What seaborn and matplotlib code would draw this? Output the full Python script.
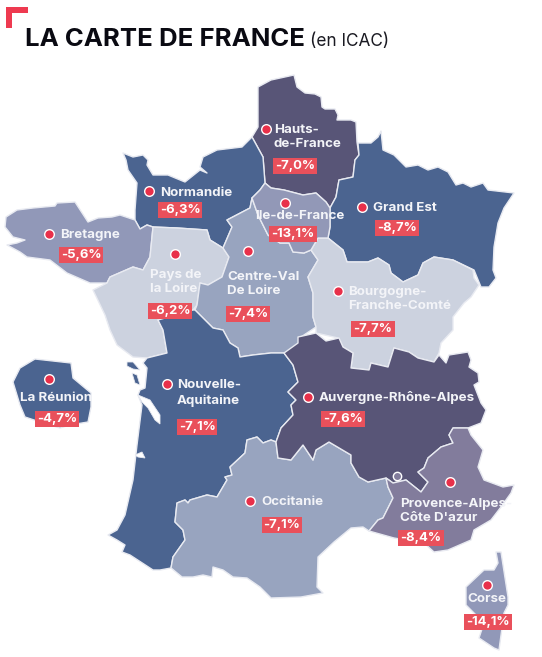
import matplotlib.pyplot as plt
import pandas as pd
import seaborn as sns

# contours relus sur l'image (px)
hauts = [(258,87),(271,80),(294,75),(297,87),(305,93),(315,94),(321,97),(322,107),(325,109),(335,109),(338,115),(337,120),(351,120),(356,122),(357,142),(359,155),(355,160),(353,177),(339,180),(336,197),(330,208),(326,202),(316,193),(303,195),(284,190),(271,188),(265,183),(263,157),(252,137),(258,127)]
grand_est = [(330,208),(336,197),(339,180),(353,177),(355,160),(359,155),(358,143),(371,143),(378,137),(381,131),(383,150),(394,155),(406,167),(418,165),(428,170),(438,167),(448,172),(456,185),(463,183),(471,187),(483,183),(488,190),(514,193),(504,208),(498,223),(494,247),(493,270),(496,278),(489,287),(481,287),(474,270),(453,260),(434,257),(423,263),(418,275),(403,282),(391,273),(389,265),(378,258),(368,262),(347,262),(343,250),(328,238),(330,227)]
idf = [(271,188),(284,190),(303,195),(316,193),(326,202),(330,208),(330,227),(328,238),(318,238),(311,250),(304,253),(293,252),(289,243),(280,243),(268,235),(258,215),(252,198),(260,190),(265,183)]
normandie = [(123,153),(133,157),(143,155),(148,160),(147,165),(153,175),(168,175),(185,182),(200,170),(207,173),(200,167),(203,157),(217,150),(242,147),(252,137),(263,157),(265,183),(260,190),(252,198),(250,208),(227,220),(232,227),(223,248),(210,240),(207,230),(177,228),(153,227),(147,225),(140,229),(135,220),(135,210),(137,183),(128,170),(126,160)]
bretagne = [(6,217),(17,210),(33,208),(55,206),(57,203),(75,202),(88,222),(98,218),(112,217),(120,215),(135,220),(140,229),(147,225),(153,227),(150,257),(143,270),(133,267),(110,277),(107,283),(90,283),(67,273),(50,260),(27,257),(20,252),(7,245),(17,243),(25,240),(13,237),(5,227)]
pays_loire = [(153,227),(177,228),(207,230),(210,240),(223,248),(229,257),(222,277),(208,285),(200,283),(197,305),(193,310),(158,320),(163,330),(167,353),(147,358),(133,357),(117,345),(110,330),(105,315),(93,290),(107,283),(110,277),(133,267),(143,270),(150,257)]
centre = [(227,220),(250,208),(252,198),(258,215),(268,235),(280,243),(289,243),(293,252),(304,253),(311,250),(318,260),(308,277),(313,293),(313,317),(316,327),(301,337),(298,347),(284,353),(271,353),(253,355),(240,357),(238,348),(230,343),(223,330),(213,328),(195,310),(197,305),(200,283),(208,285),(222,277),(229,257),(223,248),(232,227)]
bfc = [(318,238),(328,238),(343,250),(347,262),(368,262),(378,258),(389,265),(391,273),(403,282),(418,275),(423,263),(434,257),(453,260),(473,270),(474,278),(479,285),(471,297),(464,303),(453,317),(453,330),(441,343),(439,353),(434,362),(418,358),(409,352),(394,348),(388,367),(371,363),(369,370),(351,368),(353,353),(343,347),(338,338),(316,333),(316,327),(313,317),(313,293),(308,277),(318,260),(311,250)]
ara = [(284,353),(298,343),(298,337),(316,333),(326,341),(339,338),(343,347),(353,353),(351,368),(369,370),(371,363),(388,367),(394,348),(409,352),(418,358),(434,362),(439,355),(446,363),(449,355),(468,352),(471,360),(469,367),(478,373),(479,382),(474,385),(481,403),(486,410),(481,423),(468,428),(453,428),(449,435),(453,443),(441,447),(428,458),(424,468),(418,472),(428,482),(421,492),(406,480),(393,483),(386,478),(368,482),(359,477),(351,463),(351,455),(329,442),(316,450),(313,460),(303,445),(291,460),(278,458),(276,442),(281,428),(293,415),(291,405),(296,400),(288,392),(298,382),(293,365)]
paca = [(386,478),(393,483),(406,480),(421,492),(428,482),(418,472),(424,468),(428,458),(441,447),(453,443),(449,435),(453,428),(468,428),(471,435),(483,450),(478,467),(484,480),(503,487),(514,485),(511,493),(501,507),(491,520),(474,530),(471,540),(448,550),(434,552),(424,543),(394,538),(369,531),(378,520),(383,518),(393,498),(388,487)]
occitanie = [(247,440),(257,437),(263,443),(271,440),(276,442),(278,458),(291,460),(303,445),(313,460),(316,450),(329,442),(351,455),(351,463),(359,477),(368,482),(386,478),(388,487),(393,498),(383,518),(378,520),(369,531),(363,527),(351,528),(334,542),(318,557),(317,587),(323,593),(301,597),(271,598),(260,587),(247,578),(233,577),(223,570),(213,567),(212,577),(203,575),(193,577),(182,577),(171,568),(173,557),(185,540),(183,530),(175,522),(177,503),(185,500),(188,503),(190,500),(207,495),(217,497),(227,480),(225,477),(232,475),(230,467),(245,453)]
aquitaine = [(158,320),(193,310),(195,310),(213,328),(223,330),(230,343),(238,348),(240,357),(253,355),(271,353),(284,353),(293,365),(298,382),(288,392),(296,400),(291,405),(293,415),(281,428),(276,442),(271,440),(263,443),(257,437),(247,440),(245,453),(230,467),(232,475),(225,477),(227,480),(217,497),(207,495),(190,500),(188,503),(185,500),(177,503),(175,522),(183,530),(185,540),(173,557),(171,568),(160,570),(153,570),(130,555),(122,552),(125,545),(117,540),(108,535),(117,530),(125,515),(133,480),(137,445),(142,405),(138,395),(140,390),(145,388),(147,368),(143,363),(147,358),(167,353),(163,330)]
reunion = [(13,382),(20,368),(35,359),(71,363),(73,378),(91,393),(91,407),(88,422),(70,425),(60,428),(43,423),(25,417),(20,405)]
corse = [(496,552),(501,552),(508,597),(508,605),(504,613),(499,650),(494,648),(479,638),(484,623),(466,605),(466,587),(484,570),(494,570),(498,563)]

# iles et echancrures de la cote
ile_re = [(127,362),(133,362),(140,370),(133,369),(127,366)]
ile_oleron = [(132,373),(137,375),(140,385),(135,383)]
gironde = [(138,395),(150,400),(160,415),(160,424),(155,420),(148,408),(142,402)]
arcachon = [(135,455),(142,452),(145,458),(138,457)]

contours = [hauts, grand_est, normandie, bretagne, pays_loire, centre, bfc, aquitaine, occitanie, ara, paca, idf, reunion, corse]
couleurs = ['#585577', '#4B6490', '#4B6490', '#9198B8', '#CCD2DF', '#98A4BF', '#CCD2DF', '#4B6490', '#98A4BF', '#585577', '#827C9C', '#9298B7', '#4B6490', '#9198B8']

noms = ['Hauts-\nde-France', 'Normandie', 'Bretagne', 'Pays de\nla Loire', 'Centre-Val\nDe Loire', 'Ile-de-France', 'Grand Est', 'Bourgogne-\nFranche-Comté', 'La Réunion', 'Nouvelle-\nAquitaine', 'Auvergne-Rhône-Alpes', 'Occitanie', "Provence-Alpes-\nCôte D'azur", 'Corse']
valeurs = ['-7,0%', '-6,3%', '-5,6%', '-6,2%', '-7,4%', '-13,1%', '-8,7%', '-7,7%', '-4,7%', '-7,1%', '-7,6%', '-7,1%', '-8,4%', '-14,1%']
point_x = [266, 149, 49, 175, 248, 285, 362, 338, 49, 167, 308, 250, 450, 487]
point_y = [129, 191, 234, 254, 251, 203, 207, 291, 379, 384, 397, 501, 482, 585]
nom_x = [274, 160, 60, 150, 227, 255, 373, 348, 20, 177, 319, 261, 400, 467]
nom_y = [137, 193, 235, 282, 284, 216, 208, 299, 398, 393, 398, 502, 511, 599]
val_x = [295, 180, 81, 170, 248, 293, 397, 373, 57, 197, 343, 282, 421, 488]
val_y = [166, 210, 255, 311, 314, 234, 228, 329, 419, 427, 419, 525, 538, 622]

sns.set_theme(style='white')
plt.rcParams['font.family'] = ['Inter', 'DejaVu Sans']

fig, ax = plt.subplots(figsize=(5.42, 6.57), dpi=100)
fig.subplots_adjust(left=0, right=1, top=1, bottom=0)

for contour, couleur in zip(contours, couleurs):
    xs, ys = zip(*contour)
    ax.fill(xs, ys, facecolor=couleur, edgecolor='#E8EAF1', linewidth=1, joinstyle='round')

for morceau, couleur in [(gironde, 'white'), (arcachon, 'white'), (ile_re, '#4B6490'), (ile_oleron, '#4B6490')]:
    xs, ys = zip(*morceau)
    ax.fill(xs, ys, facecolor=couleur, edgecolor='#E8EAF1', linewidth=0.6)

# petite enclave dans le Vaucluse
ax.plot([397], [476], marker='o', ms=6, mfc='#827C9C', mec='white', mew=1)

df = pd.DataFrame({'x': point_x, 'y': point_y})
sns.scatterplot(data=df, x='x', y='y', s=48, color='#E8304A', edgecolor='white', linewidth=1, ax=ax, zorder=4)

for nom, x, y in zip(noms, nom_x, nom_y):
    ax.text(x, y, nom, color='#F3F4F8', fontsize=9.6, fontweight='bold', ha='left', va='center', linespacing=1.3, zorder=5)

for val, x, y in zip(valeurs, val_x, val_y):
    ax.text(x, y, val, color='white', fontsize=9.4, fontweight='bold', ha='center', va='center', zorder=5,
            bbox=dict(boxstyle='square,pad=0.16', facecolor='#E9505B', edgecolor='none'))

# titre et equerre rouge
ax.fill([6, 28, 28, 12, 12, 6], [7, 7, 13, 13, 28, 28], color='#EE3A50', lw=0)
ax.text(25, 39, 'LA CARTE DE FRANCE', color='#0A0A12', fontsize=18.5, fontweight='bold', ha='left', va='center')
ax.text(310, 41, '(en ICAC)', color='#1A1A22', fontsize=12.4, ha='left', va='center')

ax.set_xlim(0, 542)
ax.set_ylim(657, 0)
ax.set_xlabel('')
ax.set_ylabel('')
ax.axis('off')

plt.savefig('out.png', dpi=100)
